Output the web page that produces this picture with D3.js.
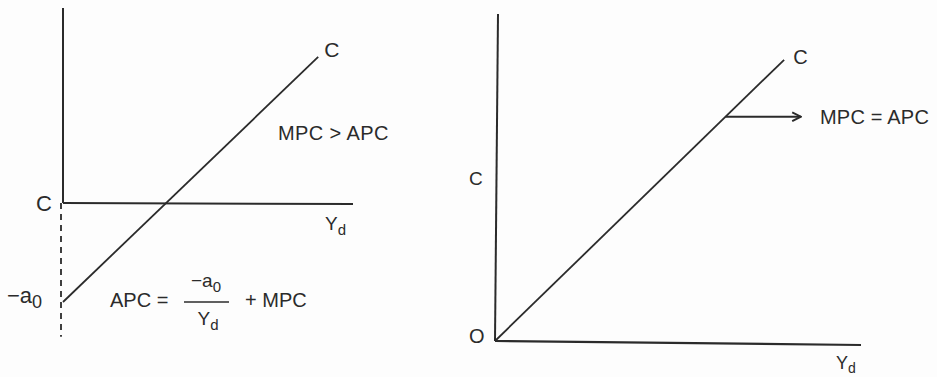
<!DOCTYPE html>
<html>
<head>
<meta charset="utf-8">
<script src="https://cdn.jsdelivr.net/npm/d3@7/dist/d3.min.js"></script>
<style>
  html, body { margin: 0; padding: 0; background: #fdfdfd; }
  text { font-family: "Liberation Sans", Arial, sans-serif; fill: #2b2b2b; }
</style>
</head>
<body>
<div id="chart"></div>
<script>
// --- data ---
// left panel: consumption function with negative intercept -a0
const leftXDomain = [0, 100];
const leftYDomain = [-40, 80];
const leftLine = [{ x: 0, y: -40 }, { x: 88, y: 59 }];
const leftDashed = [{ x: 0, y: 0 }, { x: 0, y: -54 }];

// right panel: proportional consumption function through origin
const rightXDomain = [0, 100];
const rightYDomain = [0, 100];
const rightLine = [{ x: 0, y: 0 }, { x: 79, y: 86 }];
const arrowFromX = 63;

const width = 937, height = 377;
const ink = "#2b2b2b";

const svg = d3.select("#chart").append("svg")
    .attr("width", width)
    .attr("height", height);

svg.append("defs").append("marker")
    .attr("id", "chev")
    .attr("viewBox", "0 0 10 10")
    .attr("refX", 9).attr("refY", 5)
    .attr("markerWidth", 11).attr("markerHeight", 11)
    .attr("markerUnits", "userSpaceOnUse")
    .attr("orient", "auto")
    .append("path")
    .attr("d", "M1,1 L9,5 L1,9")
    .attr("fill", "none")
    .attr("stroke", ink)
    .attr("stroke-width", 1.8);

const line = (sx, sy) => d3.line().x(d => sx(d.x)).y(d => sy(d.y));

// ===== left panel =====
const lx = d3.scaleLinear().domain(leftXDomain).range([63, 353]);
const ly = d3.scaleLinear().domain(leftYDomain).range([302, 5]);
const L = svg.append("g");

// axes
L.append("line")
    .attr("x1", lx(0)).attr("y1", 8)
    .attr("x2", lx(0)).attr("y2", ly(0))
    .attr("stroke", ink).attr("stroke-width", 2);
L.append("line")
    .attr("x1", lx(0)).attr("y1", ly(0))
    .attr("x2", lx(100)).attr("y2", ly(0) + 1)
    .attr("stroke", ink).attr("stroke-width", 2);
L.append("path")
    .attr("d", line(lx, ly)(leftDashed))
    .attr("transform", "translate(-2,0)")
    .attr("fill", "none").attr("stroke", ink).attr("stroke-width", 1.8)
    .attr("stroke-dasharray", "6,5");
L.append("path")
    .attr("d", line(lx, ly)(leftLine))
    .attr("fill", "none").attr("stroke", ink).attr("stroke-width", 1.8);

// labels
L.append("text").attr("x", lx(88) + 6).attr("y", 57)
    .attr("font-size", 21).text("C");
L.append("text").attr("x", 278).attr("y", 140)
    .attr("font-size", 20).attr("letter-spacing", 0.4).text("MPC > APC");
L.append("text").attr("x", 36).attr("y", ly(0) + 8)
    .attr("font-size", 22).text("C");
const ydL = L.append("text").attr("x", 325).attr("y", 230).attr("font-size", 19);
ydL.append("tspan").text("Y");
ydL.append("tspan").attr("font-size", 15).attr("dy", 5).text("d");

const a0 = L.append("text").attr("x", 7).attr("y", 303).attr("font-size", 22);
a0.append("tspan").text("\u2212a");
a0.append("tspan").attr("font-size", 18).attr("dy", 5).text("0");

L.append("text").attr("x", 110).attr("y", 307).attr("font-size", 20).text("APC =");
const num = L.append("text").attr("x", 206).attr("y", 287).attr("font-size", 19)
    .attr("text-anchor", "middle");
num.append("tspan").text("\u2212a");
num.append("tspan").attr("font-size", 15).attr("dy", 5).text("0");
L.append("line").attr("x1", 184).attr("x2", 229).attr("y1", 302).attr("y2", 302)
    .attr("stroke", ink).attr("stroke-width", 1.6);
const den = L.append("text").attr("x", 208).attr("y", 325).attr("font-size", 19)
    .attr("text-anchor", "middle");
den.append("tspan").text("Y");
den.append("tspan").attr("font-size", 15).attr("dy", 5).text("d");
L.append("text").attr("x", 245).attr("y", 307).attr("font-size", 20).text("+ MPC");

// ===== right panel =====
const rx = d3.scaleLinear().domain(rightXDomain).range([495, 861]);
const ry = d3.scaleLinear().domain(rightYDomain).range([341, 14]);
const R = svg.append("g");

R.append("line")
    .attr("x1", rx(0) + 3).attr("y1", ry(100))
    .attr("x2", rx(0)).attr("y2", ry(0))
    .attr("stroke", ink).attr("stroke-width", 2);
R.append("line")
    .attr("x1", rx(0)).attr("y1", ry(0))
    .attr("x2", rx(100)).attr("y2", ry(0) + 4)
    .attr("stroke", ink).attr("stroke-width", 2.2);
R.append("path")
    .attr("d", line(rx, ry)(rightLine))
    .attr("fill", "none").attr("stroke", ink).attr("stroke-width", 1.8);

const slope = rightLine[1].y / rightLine[1].x;
const ay = ry(arrowFromX * slope);
R.append("line")
    .attr("x1", rx(arrowFromX)).attr("y1", ay)
    .attr("x2", 801).attr("y2", ay)
    .attr("stroke", ink).attr("stroke-width", 1.8)
    .attr("marker-end", "url(#chev)");
R.append("text").attr("x", 820).attr("y", ay + 7)
    .attr("font-size", 20).attr("letter-spacing", 0.2).text("MPC = APC");

R.append("text").attr("x", rx(79) + 9).attr("y", ry(86) + 4)
    .attr("font-size", 20).text("C");
R.append("text").attr("x", 469).attr("y", 185).attr("font-size", 19).text("C");
R.append("text").attr("x", 469).attr("y", 343).attr("font-size", 20).text("O");
const ydR = R.append("text").attr("x", 836).attr("y", 369).attr("font-size", 18);
ydR.append("tspan").text("Y");
ydR.append("tspan").attr("font-size", 14).attr("dy", 4).text("d");
</script>
</body>
</html>
